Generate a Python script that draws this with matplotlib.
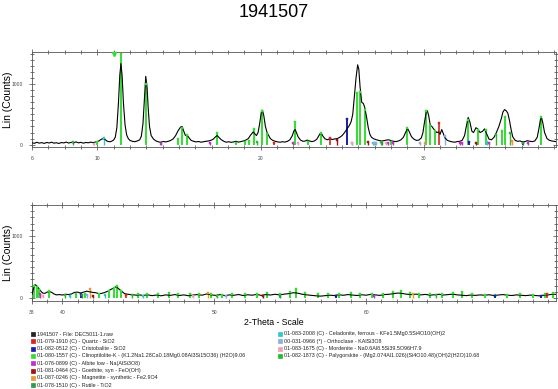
import matplotlib
matplotlib.use("Agg")
import matplotlib.pyplot as plt
from matplotlib.lines import Line2D
from matplotlib.ticker import MultipleLocator, FixedLocator

plt.rcParams['font.family'] = ['Liberation Sans', 'DejaVu Sans']

scan_top = [
    (6.0, 30), (6.15, 22), (6.3, 38), (6.45, 25), (6.6, 33), (6.75, 20), (6.9, 36), (7.05, 27),
    (7.2, 40), (7.35, 24), (7.5, 31), (7.65, 19), (7.8, 35), (7.95, 28), (8.1, 42), (8.25, 26),
    (8.4, 37), (8.55, 30), (8.7, 45), (8.85, 29), (9.0, 38), (9.15, 24), (9.3, 36), (9.45, 30),
    (9.6, 41), (9.75, 33), (9.9, 44), (10.0, 52), (10.1, 60), (10.2, 80), (10.3, 95), (10.4, 98),
    (10.5, 80), (10.6, 58), (10.7, 50), (10.8, 48), (10.9, 60), (11.0, 75), (11.1, 120), (11.2, 280),
    (11.3, 700), (11.38, 1150), (11.45, 1340), (11.52, 1150), (11.6, 700), (11.7, 330), (11.8, 160),
    (11.9, 100), (12.0, 70), (12.15, 55), (12.3, 48), (12.45, 60), (12.6, 80), (12.7, 140), (12.8, 350),
    (12.9, 800), (12.97, 1130), (13.05, 950), (13.12, 600), (13.2, 300), (13.3, 150), (13.45, 90),
    (13.6, 60), (13.75, 45), (13.9, 40), (14.05, 52), (14.2, 45), (14.35, 55), (14.5, 70), (14.65, 95),
    (14.8, 150), (14.95, 230), (15.1, 290), (15.2, 300), (15.3, 220), (15.4, 150), (15.5, 160),
    (15.6, 120), (15.75, 70), (15.9, 55), (16.05, 45), (16.2, 52), (16.35, 40), (16.5, 48), (16.65, 55),
    (16.8, 60), (16.95, 70), (17.1, 90), (17.25, 130), (17.35, 150), (17.45, 120), (17.6, 80),
    (17.75, 55), (17.9, 40), (18.05, 48), (18.2, 38), (18.35, 45), (18.5, 55), (18.65, 42), (18.8, 50),
    (18.95, 60), (19.1, 75), (19.25, 100), (19.4, 160), (19.55, 210), (19.65, 180), (19.75, 150),
    (19.85, 200), (19.95, 350), (20.05, 540), (20.12, 570), (20.2, 480), (20.3, 300), (20.4, 200),
    (20.5, 150), (20.6, 100), (20.75, 70), (20.9, 55), (21.05, 45), (21.2, 40), (21.35, 48), (21.5, 42),
    (21.65, 55), (21.8, 80), (21.95, 150), (22.05, 230), (22.12, 250), (22.2, 200), (22.3, 130),
    (22.45, 75), (22.6, 55), (22.75, 60), (22.85, 75), (23.0, 60), (23.15, 50), (23.3, 60), (23.45, 90),
    (23.6, 160), (23.7, 200), (23.8, 150), (23.95, 95), (24.1, 80), (24.25, 100), (24.4, 85),
    (24.55, 95), (24.7, 100), (24.85, 120), (25.0, 150), (25.15, 200), (25.3, 260), (25.45, 320),
    (25.55, 380), (25.65, 500), (25.75, 800), (25.85, 1100), (25.95, 1320), (26.02, 1250), (26.1, 950),
    (26.2, 700), (26.3, 680), (26.38, 620), (26.5, 450), (26.6, 280), (26.7, 170), (26.8, 120),
    (26.95, 95), (27.1, 80), (27.25, 70), (27.4, 60), (27.55, 65), (27.7, 75), (27.85, 80), (28.0, 65),
    (28.15, 55), (28.3, 50), (28.45, 60), (28.6, 80), (28.75, 120), (28.9, 210), (29.0, 270),
    (29.1, 220), (29.25, 130), (29.4, 90), (29.55, 70), (29.7, 75), (29.85, 110), (29.95, 200),
    (30.05, 380), (30.15, 540), (30.22, 560), (30.3, 480), (30.4, 320), (30.5, 300), (30.6, 260),
    (30.7, 230), (30.8, 200), (30.9, 210), (31.0, 170), (31.1, 250), (31.2, 180), (31.3, 110),
    (31.45, 70), (31.6, 55), (31.75, 45), (31.9, 40), (32.05, 50), (32.2, 55), (32.35, 70), (32.5, 150),
    (32.62, 320), (32.72, 450), (32.82, 380), (32.95, 220), (33.05, 200), (33.2, 280), (33.3, 260),
    (33.45, 200), (33.6, 220), (33.72, 260), (33.85, 180), (34.0, 90), (34.15, 80), (34.3, 120),
    (34.45, 200), (34.6, 300), (34.75, 430), (34.85, 540), (34.95, 580), (35.05, 560), (35.15, 520),
    (35.25, 400), (35.35, 250), (35.45, 130), (35.6, 70), (35.75, 55), (35.9, 60), (36.05, 45),
    (36.2, 50), (36.35, 65), (36.5, 55), (36.65, 50), (36.8, 60), (36.95, 120), (37.05, 260),
    (37.15, 420), (37.22, 440), (37.3, 350), (37.4, 200), (37.55, 100), (37.7, 70), (37.85, 60),
    (38.0, 55), (38.1, 50),
]

scan_bottom = [
    (38.0, 60), (38.1, 150), (38.2, 215), (38.3, 200), (38.4, 170), (38.55, 120), (38.7, 80),
    (38.85, 75), (39.0, 95), (39.15, 105), (39.3, 90), (39.45, 65), (39.6, 50), (39.8, 55), (40.0, 48),
    (40.2, 60), (40.4, 55), (40.6, 65), (40.8, 90), (41.0, 95), (41.2, 80), (41.4, 95), (41.6, 110),
    (41.8, 100), (42.0, 90), (42.2, 85), (42.4, 70), (42.6, 75), (42.8, 90), (43.0, 110), (43.2, 140),
    (43.4, 160), (43.55, 185), (43.7, 150), (43.9, 110), (44.1, 70), (44.3, 60), (44.5, 55),
    (44.7, 50), (44.9, 45), (45.1, 50), (45.3, 40), (45.6, 52), (45.9, 38), (46.2, 48), (46.5, 35),
    (46.8, 50), (47.1, 42), (47.4, 55), (47.7, 40), (48.0, 50), (48.3, 36), (48.6, 48), (48.9, 55),
    (49.2, 45), (49.5, 65), (49.8, 50), (50.1, 42), (50.4, 55), (50.7, 38), (51.0, 50), (51.3, 44),
    (51.6, 56), (51.9, 40), (52.2, 52), (52.5, 45), (52.8, 58), (53.1, 42), (53.4, 55), (53.7, 48),
    (54.0, 60), (54.3, 50), (54.6, 62), (54.9, 70), (55.2, 85), (55.5, 78), (55.8, 60), (56.1, 50),
    (56.4, 42), (56.7, 35), (57.0, 30), (57.3, 38), (57.6, 45), (57.9, 40), (58.2, 52), (58.5, 44),
    (58.8, 55), (59.1, 48), (59.4, 40), (59.7, 52), (60.0, 45), (60.3, 58), (60.6, 50), (60.9, 42),
    (61.2, 55), (61.5, 60), (61.8, 70), (62.1, 80), (62.4, 72), (62.7, 60), (63.0, 55), (63.3, 62),
    (63.6, 50), (63.9, 58), (64.2, 45), (64.5, 52), (64.8, 60), (65.1, 48), (65.4, 55), (65.7, 62),
    (66.0, 50), (66.3, 45), (66.6, 38), (66.9, 48), (67.2, 42), (67.5, 50), (67.8, 44), (68.1, 52),
    (68.4, 40), (68.7, 48), (69.0, 55), (69.3, 45), (69.6, 40), (69.9, 50), (70.2, 44), (70.5, 38),
    (70.8, 46), (71.1, 40), (71.4, 35), (71.7, 45), (72.0, 50), (72.3, 62), (72.5, 58),
]

# Lineas de referencia (posicion, altura) por fase
clino_top = [
    (10.0, 50), (11.45, 1500), (13.0, 1010), (14.95, 100), (15.2, 280), (15.5, 165), (17.35, 200),
    (18.5, 30), (19.05, 40), (19.3, 60), (19.6, 260), (20.1, 550), (20.4, 180), (22.1, 380),
    (22.9, 40), (23.7, 200), (25.9, 850), (26.08, 870), (26.4, 570), (27.0, 30), (28.0, 40),
    (29.0, 270), (30.15, 560), (30.4, 300), (30.7, 230), (32.7, 400), (33.3, 240), (33.8, 250),
    (34.8, 230), (35.0, 450), (37.2, 450),
]
clino_bottom = [
    (38.15, 200), (38.3, 170), (38.45, 130), (39.1, 110), (40.9, 60), (41.5, 70), (42.4, 60),
    (43.1, 120), (43.4, 160), (43.6, 190), (43.85, 110), (45.0, 60), (45.6, 70), (46.3, 60),
    (47.0, 80), (47.6, 60), (48.4, 70), (49.0, 60), (49.8, 60), (50.5, 50), (51.2, 60), (52.0, 70),
    (52.8, 60), (53.5, 80), (54.3, 60), (55.0, 90), (55.4, 140), (56.0, 80), (56.8, 60), (57.5, 70),
    (58.2, 60), (59.0, 80), (59.6, 60), (60.4, 70), (61.1, 60), (61.8, 100), (62.3, 120), (62.9, 80),
    (63.5, 70), (64.2, 60), (65.0, 60), (65.7, 80), (66.3, 100), (67.0, 60), (67.8, 50), (68.5, 50),
    (69.3, 50), (70.1, 60), (71.0, 50), (71.8, 60), (72.3, 80),
]
paly_top = [(8.5, 45), (19.8, 40), (27.4, 40), (34.4, 160), (35.3, 200)]
paly_bottom = [(40.2, 50), (44.6, 45), (50.2, 40), (64.6, 45)]
quartz_top = [(20.85, 30), (24.25, 110), (30.95, 360)]
quartz_bottom = [(44.2, 50), (71.9, 60)]
cristo_top = [(25.3, 420), (32.75, 40), (36.1, 30)]
cristo_bottom = [(41.2, 60), (58.0, 40), (68.5, 40), (71.5, 40)]
albite_top = [(13.9, 15), (16.9, 25), (22.0, 20), (27.8, 30), (28.1, 25), (32.2, 30), (32.35, 30),
              (34.0, 20), (36.4, 25)]
albite_bottom = [(38.5, 60), (60.5, 40)]
goethite_top = [(24.7, 80), (26.6, 40), (33.2, 30)]
goethite_bottom = [(42.0, 40), (53.2, 35)]
magnetite_top = [(30.1, 20), (35.4, 60)]
magnetite_bottom = [(41.8, 150), (49.6, 80), (63.1, 70)]
rutile_top = [(27.45, 30), (36.1, 35)]
rutile_bottom = [(41.3, 50), (54.3, 40)]
celadon_top = [(10.4, 110), (25.6, 30), (26.9, 30), (33.9, 40)]
celadon_bottom = [(40.5, 40), (42.8, 50), (45.3, 40)]
orthoc_top = [(26.95, 20), (27.1, 30), (29.8, 30), (31.3, 150)]
orthoc_bottom = [(41.6, 45), (50.8, 35)]
morden_top = [(9.8, 15), (22.3, 20), (25.6, 20), (27.7, 20)]
morden_bottom = [(38.7, 40), (48.6, 30)]

legend_left = [
    "1941507 - File: DEC5011-1.raw",
    "01-079-1910 (C) - Quartz - SiO2",
    "01-082-0512 (C) - Cristobalite - SiO2",
    "01-080-1557 (C) - Clinoptilolite-K - (K1.2Na1.28Ca0.18Mg0.08Al3Si15O36) (H2O)9.06",
    "01-076-0899 (C) - Albite low - Na(AlSi3O8)",
    "01-081-0464 (C) - Goethite, syn - FeO(OH)",
    "01-087-0246 (C) - Magnetite - synthetic - Fe2.9O4",
    "01-078-1510 (C) - Rutile - TiO2",
]
legend_right = [
    "01-083-2008 (C) - Celadonite, ferrous - KFe1.5Mg0.5Si4O10(OH)2",
    "00-031-0966 (*) - Orthoclase - KAlSi3O8",
    "01-083-1675 (C) - Mordenite - Na0.6Al8.5Si39.5O96H7.9",
    "01-082-1873 (C) - Palygorskite - (Mg2.074Al1.026)(Si4O10.48)(OH)2(H2O)10.68",
]

# (lineas arriba, lineas abajo, color, grosor)
fases = [
    (paly_top, paly_bottom, '#2fb52f', 1.0),
    (clino_top, clino_bottom, '#33dd33', 1.4),
    (quartz_top, quartz_bottom, '#dd2020', 1.2),
    (cristo_top, cristo_bottom, '#1c1ca8', 1.4),
    (albite_top, albite_bottom, '#c030c8', 1.0),
    (goethite_top, goethite_bottom, '#a01010', 1.0),
    (magnetite_top, magnetite_bottom, '#e89a30', 1.0),
    (rutile_top, rutile_bottom, '#2f9a4a', 1.0),
    (celadon_top, celadon_bottom, '#30c8c8', 1.0),
    (orthoc_top, orthoc_bottom, '#8ab0e0', 1.0),
    (morden_top, morden_bottom, '#eea0b8', 1.0),
]

colores_leyenda_izq = ['#222222', '#dd2020', '#1c1ca8', '#33dd33', '#c030c8', '#a01010', '#e89a30', '#2f9a4a']
colores_leyenda_der = ['#30c8c8', '#8ab0e0', '#eea0b8', '#2fb52f']

fig = plt.figure(figsize=(5.58, 3.89), dpi=100)
ax1 = fig.add_axes([0.0573, 0.622, 0.9391, 0.244])
ax2 = fig.add_axes([0.0573, 0.226, 0.9391, 0.247])


def dibujar_panel(ax, scan, idx, xlim, ylim, xticks):
    for fase in fases:
        sticks = fase[idx]
        color, lw = fase[2], fase[3]
        xs = [p for p, h in sticks if xlim[0] <= p <= xlim[1]]
        hs = [h for p, h in sticks if xlim[0] <= p <= xlim[1]]
        ax.vlines(xs, 0, hs, colors=color, linewidth=lw, zorder=2)
        ax.plot(xs, hs, linestyle='none', marker='s', markersize=2.0, markerfacecolor=color,
                markeredgecolor=color, markeredgewidth=0.3, zorder=4)
    xs = [p for p, c in scan]
    cs = [c for p, c in scan]
    ax.plot(xs, cs, color='black', linewidth=0.8, zorder=3)
    ax.set_xlim(*xlim)
    ax.set_ylim(*ylim)
    ax.xaxis.set_major_locator(FixedLocator(xticks))
    ax.xaxis.set_minor_locator(MultipleLocator(1))
    ax.yaxis.set_major_locator(FixedLocator([0, 1000]))
    ax.yaxis.set_minor_locator(MultipleLocator(100))
    ax.set_xticklabels([str(t) for t in xticks])
    ax.tick_params(which='both', top=True, right=True, direction='inout', colors='#444444',
                   labelsize=3.6, width=0.5)
    ax.tick_params(which='major', length=5)
    ax.tick_params(which='minor', length=3)
    ax.tick_params(axis='x', pad=4)
    ax.tick_params(axis='y', pad=4)
    for s in ax.spines.values():
        s.set_color('#555555')
        s.set_linewidth(0.6)
    ax.set_ylabel('Lin (Counts)', fontsize=7.5)
    ax.yaxis.set_label_coords(-0.037, 0.5)


dibujar_panel(ax1, scan_top, 0, (6.0, 38.1), (-40, 1530), [6, 10, 20, 30])
dibujar_panel(ax2, scan_bottom, 1, (38.0, 72.5), (-50, 1500), [38, 40, 50, 60])

# marcador verde sobre el eje superior
ax1.plot([11.0], [1505], marker='v', markersize=3, color='#33dd33', clip_on=False, zorder=5)

fig.text(0.49, 0.968, '1941507', ha='center', va='center', fontsize=13)
fig.text(0.49, 0.170, '2-Theta - Scale', ha='center', va='center', fontsize=6.3)

# Leyenda de fases
for i, (txt, col) in enumerate(zip(legend_left, colores_leyenda_izq)):
    y = 1 - (334 + i * 7.3) / 389
    fig.add_artist(Line2D([33 / 558], [y], marker='s', markersize=3.5, markerfacecolor='white',
                          markeredgecolor=col, markeredgewidth=0.6, transform=fig.transFigure))
    fig.add_artist(Line2D([33 / 558], [y], marker='s', markersize=1.7, color=col,
                          transform=fig.transFigure))
    fig.text(37 / 558, y, txt, ha='left', va='center', fontsize=3.9, color='#222222')

for i, (txt, col) in enumerate(zip(legend_right, colores_leyenda_der)):
    y = 1 - (334 + i * 7.3) / 389
    fig.add_artist(Line2D([280 / 558], [y], marker='s', markersize=3.5, markerfacecolor='white',
                          markeredgecolor=col, markeredgewidth=0.6, transform=fig.transFigure))
    fig.add_artist(Line2D([280 / 558], [y], marker='s', markersize=1.7, color=col,
                          transform=fig.transFigure))
    fig.text(284 / 558, y, txt, ha='left', va='center', fontsize=3.9, color='#222222')

fig.savefig('out.png', dpi=100)
